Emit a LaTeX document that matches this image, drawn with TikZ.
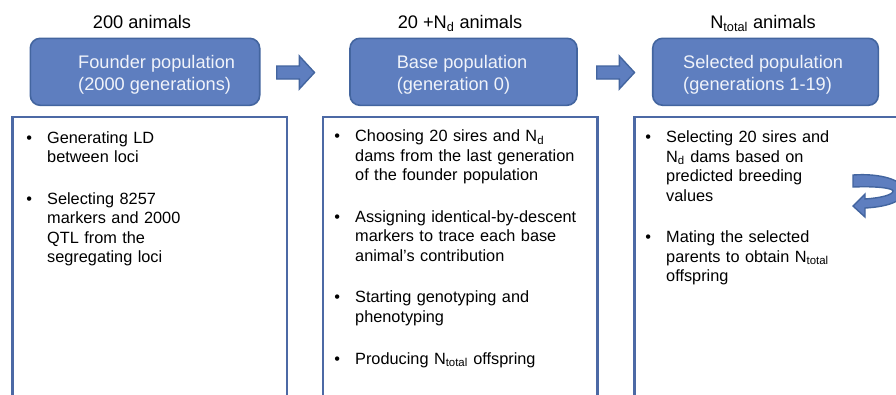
\documentclass[tikz,border=0pt]{standalone}
\usepackage{fontspec}
\setmainfont{Liberation Sans}
\definecolor{boxfill}{HTML}{5E7EBF}
\definecolor{boxline}{HTML}{43659F}
\definecolor{wline}{HTML}{4C69A5}
\definecolor{titletext}{HTML}{F0F3FA}
\newcommand\bitem[1]{\noindent\rule{0pt}{13pt}\llap{\textbullet\hspace{15.2pt}}#1}
\begin{document}
\begin{tikzpicture}[x=1pt,y=-1pt,
  lab/.style={font=\fontsize{18.2}{21.7}\selectfont, inner sep=0pt, anchor=base},
  hbox/.style={draw=boxline, line width=1.6pt, fill=boxfill, rounded corners=10pt, inner sep=0pt, minimum height=67pt},
  htext/.style={font=\fontsize{18.2}{21.7}\selectfont, text=titletext, inner sep=0pt, anchor=north west, align=left},
  wbox/.style={draw=wline, line width=2.2pt, fill=white, inner sep=0pt, outer sep=0pt, anchor=north west, minimum height=290pt},
  btext/.style={font={\fontsize{16.3}{19.45}\selectfont\setlength{\parskip}{22.25pt}}, inner sep=0pt, anchor=north west, text width=250pt, align=left},
  barrow/.style={draw=boxline, line width=1.4pt, fill=boxfill, line join=miter}
]
\clip (0,0) rectangle (896,394);
\fill[white] (0,0) rectangle (896,394);

% top labels
\node[lab] (l1) at (142,28) {200 animals};
\node[lab] (l2) at (460,28) {20 +N\textsubscript{d} animals};
\node[lab] (l3) at (763,28) {N\textsubscript{total} animals};

% blue header boxes
\node[hbox, minimum width=229.4pt] (h1) at (145,71.8) {};
\node[hbox, minimum width=227pt] (h2) at (463.5,71.8) {};
\node[hbox, minimum width=225.6pt] (h3) at (765.5,71.8) {};

\node[htext] (t1) at (78,53.3) {\rule{0pt}{15pt}Founder population\\(2000 generations)};
\node[htext] (t2) at (396.6,53.3) {\rule{0pt}{15pt}Base population\\(generation 0)};
\node[htext] (t3) at (683,53.3) {\rule{0pt}{15pt}Selected population\\(generations 1-19)};

% block arrows
\coordinate (a1) at (276.7,72.5);
\coordinate (a2) at (596.7,72.5);
\draw[barrow] (a1) ++(0,-6.5) -- ++(22.6,0) -- ++(0,-10) -- ++(15.2,16.5) -- ++(-15.2,16.5) -- ++(0,-10) -- ++(-22.6,0) -- cycle;
\draw[barrow] (a2) ++(0,-6.5) -- ++(22.6,0) -- ++(0,-10) -- ++(15.2,16.5) -- ++(-15.2,16.5) -- ++(0,-10) -- ++(-22.6,0) -- cycle;

% white boxes
\node[wbox, minimum width=274.5pt] (w1) at (12.5,117.3) {};
\node[wbox, minimum width=274.5pt] (w2) at (323,117.3) {};
\node[wbox, minimum width=280pt] (w3) at (634.5,117.3) {};

% bullet texts
\node[btext] (b1) at (47,130) {\bitem{Generating LD\\between loci}\par
\bitem{Selecting 8257\\markers and 2000\\QTL from the\\segregating loci}};

\node[btext] (b2) at (355,128.5) {\bitem{Choosing 20 sires and N\textsubscript{d}\\dams from the last generation\\of the founder population}\par
\bitem{Assigning identical-by-descent\\markers to trace each base\\animal’s contribution}\par
\bitem{Starting genotyping and\\phenotyping}\par
\bitem{Producing N\textsubscript{total} offspring}};

\node[btext] (b3) at (666,129.7) {\bitem{Selecting 20 sires and\\N\textsubscript{d} dams based on\\predicted breeding\\values}\par
\bitem{Mating the selected\\parents to obtain N\textsubscript{total}\\offspring}};

% curved loop arrow
\draw[barrow] (853,175) .. controls (880,173) and (905,180) .. (904,192)
  .. controls (903,202) and (885,207) .. (865,208) -- (865,217) -- (853,206) -- (865,194) -- (865,199)
  .. controls (880,198) and (893,195) .. (893,191)
  .. controls (893,188) and (875,186) .. (853,187) -- cycle;
\end{tikzpicture}
\end{document}
